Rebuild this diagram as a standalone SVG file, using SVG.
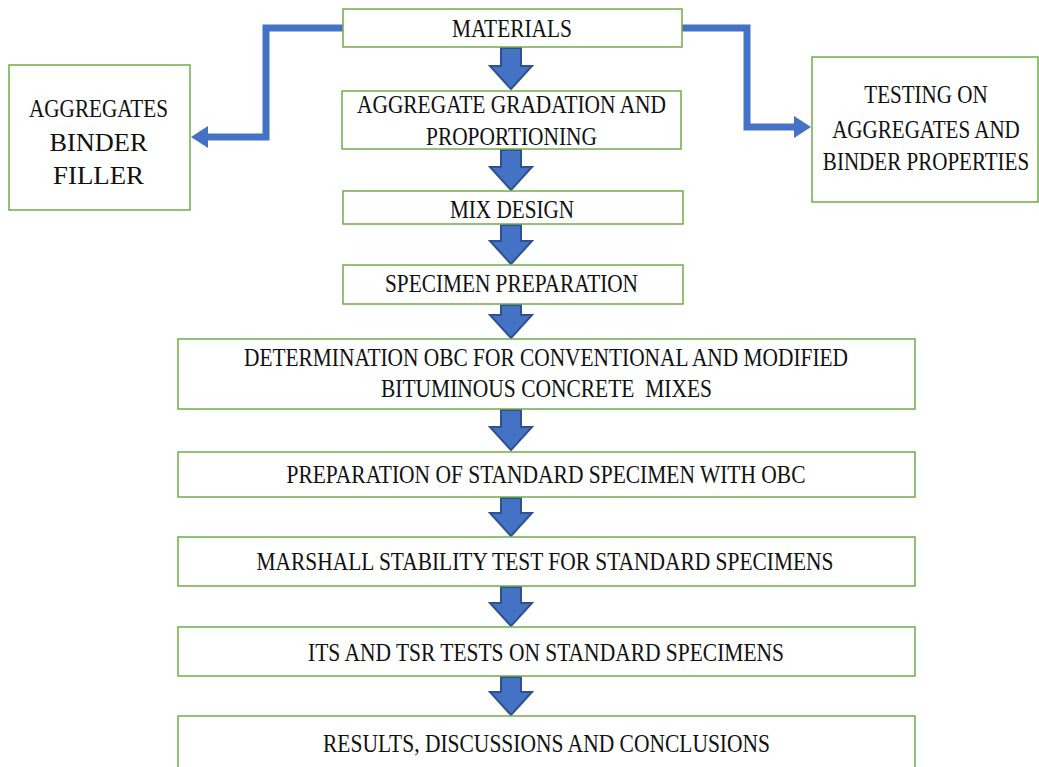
<svg xmlns="http://www.w3.org/2000/svg" width="1039" height="767" viewBox="0 0 1039 767">
<style>
.box{fill:#fff;stroke:#70AD47;stroke-width:1.5}
.t{font-family:"Liberation Serif","Times New Roman",serif;font-size:26px;fill:#111;text-anchor:middle}
.conn{fill:none;stroke:#4472C4;stroke-width:7;stroke-linejoin:miter}
.head{fill:#4472C4}
.blk{fill:#4472C4;stroke:#2F528F;stroke-width:2;stroke-linejoin:miter}
</style>
<rect width="1039" height="767" fill="#fff"/>
<g id="connectors">
<polyline class="conn" points="343,28 266,28 266,137 206,137"/>
<polygon class="head" points="191,137 208,126 208,148"/>
<polyline class="conn" points="682,28 747,28 747,127 796,127"/>
<polygon class="head" points="811,127 794,116 794,138"/>
<path class="blk" d="M501,48 H521 V66 H532 L511,89 L490,66 H501 Z"/>
<path class="blk" d="M501,150 H521 V167 H532 L511,190 L490,167 H501 Z"/>
<path class="blk" d="M501,225 H521 V241 H532 L511,264 L490,241 H501 Z"/>
<path class="blk" d="M501,305 H521 V315 H532 L511,338 L490,315 H501 Z"/>
<path class="blk" d="M501,410 H521 V427 H532 L511,450 L490,427 H501 Z"/>
<path class="blk" d="M501,498 H521 V513 H532 L511,536 L490,513 H501 Z"/>
<path class="blk" d="M501,587 H521 V603 H532 L511,626 L490,603 H501 Z"/>
<path class="blk" d="M501,677 H521 V692 H532 L511,715 L490,692 H501 Z"/>
</g>
<g id="materials">
<rect class="box" x="343" y="9" width="339" height="38"/>
<text class="t" x="512" y="37" textLength="120" lengthAdjust="spacingAndGlyphs">MATERIALS</text>
</g>
<g id="gradation">
<rect class="box" x="342" y="91" width="339" height="58"/>
<text class="t" x="511.5" y="113" textLength="309" lengthAdjust="spacingAndGlyphs">AGGREGATE GRADATION AND</text>
<text class="t" x="511.5" y="145" textLength="171" lengthAdjust="spacingAndGlyphs">PROPORTIONING</text>
</g>
<g id="mixdesign">
<rect class="box" x="343" y="191" width="340" height="33"/>
<text class="t" x="512" y="218" textLength="124" lengthAdjust="spacingAndGlyphs">MIX DESIGN</text>
</g>
<g id="specimen">
<rect class="box" x="343" y="265" width="340" height="39"/>
<text class="t" x="511.5" y="292" textLength="253" lengthAdjust="spacingAndGlyphs">SPECIMEN PREPARATION</text>
</g>
<g id="aggregates">
<rect class="box" x="9" y="65" width="181" height="145"/>
<text class="t" x="98.5" y="117" textLength="139" lengthAdjust="spacingAndGlyphs">AGGREGATES</text>
<text class="t" x="98.5" y="151" textLength="98" lengthAdjust="spacingAndGlyphs">BINDER</text>
<text class="t" x="98.5" y="184" textLength="91" lengthAdjust="spacingAndGlyphs">FILLER</text>
</g>
<g id="testing">
<rect class="box" x="812" y="57" width="226" height="145"/>
<g transform="translate(926,0) scale(0.81,1)">
<text class="t" x="0" y="103">TESTING ON</text>
<text class="t" x="0" y="138">AGGREGATES AND</text>
<text class="t" x="0" y="170">BINDER PROPERTIES</text>
</g>
</g>
<g id="determination">
<rect class="box" x="178" y="339" width="737" height="70"/>
<text class="t" x="546" y="366" textLength="604" lengthAdjust="spacingAndGlyphs">DETERMINATION OBC FOR CONVENTIONAL AND MODIFIED</text>
<text class="t" x="546.5" y="397" textLength="331" lengthAdjust="spacingAndGlyphs" xml:space="preserve">BITUMINOUS CONCRETE  MIXES</text>
</g>
<g id="preparation">
<rect class="box" x="178" y="452" width="737" height="45"/>
<text class="t" x="546" y="483" textLength="519" lengthAdjust="spacingAndGlyphs">PREPARATION OF STANDARD SPECIMEN WITH OBC</text>
</g>
<g id="marshall">
<rect class="box" x="178" y="537" width="737" height="49"/>
<text class="t" x="545" y="570" textLength="577" lengthAdjust="spacingAndGlyphs">MARSHALL STABILITY TEST FOR STANDARD SPECIMENS</text>
</g>
<g id="its">
<rect class="box" x="178" y="627" width="737" height="49"/>
<text class="t" x="546" y="661" textLength="476" lengthAdjust="spacingAndGlyphs">ITS AND TSR TESTS ON STANDARD SPECIMENS</text>
</g>
<g id="results">
<rect class="box" x="178" y="716" width="737" height="60"/>
<text class="t" x="546.5" y="752" textLength="447" lengthAdjust="spacingAndGlyphs">RESULTS, DISCUSSIONS AND CONCLUSIONS</text>
</g>
</svg>
